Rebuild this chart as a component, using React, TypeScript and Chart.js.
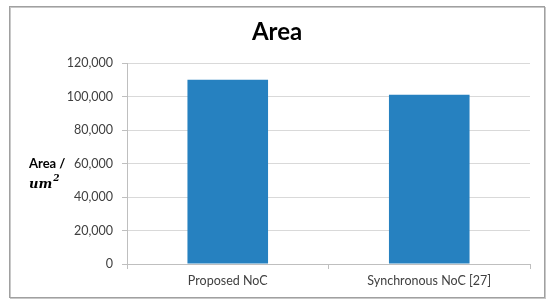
import React, { useEffect, useRef } from "react";
import { Chart, registerables } from "chart.js";

Chart.register(...registerables);

const categories = ["Proposed NoC", "Synchronous NoC [27]"];
const areaValues = [110000, 101000];
const yTicks = [0, 20000, 40000, 60000, 80000, 100000, 120000];
const chartTitle = "Area";
const yLabelLine1 = "Area /";
const yLabelUnit = "um";
const yLabelSup = "2";

const FONT = "Lato, 'Open Sans', sans-serif";

const framePlugin = {
  id: "frame",
  beforeDraw(chart: any) {
    const ctx = chart.ctx;
    ctx.save();
    ctx.fillStyle = "#ffffff";
    ctx.fillRect(0, 0, chart.width, chart.height);
    ctx.strokeStyle = "#c8c8c8";
    ctx.lineWidth = 1;
    ctx.strokeRect(10.5, 7.5, 535, 291);
    ctx.strokeStyle = "#a0a0a0";
    ctx.strokeRect(9.5, 6.5, 535, 291);
    ctx.restore();
  },
  afterDraw(chart: any) {
    const ctx = chart.ctx;
    ctx.save();
    ctx.fillStyle = "#000000";
    ctx.textBaseline = "middle";
    ctx.textAlign = "center";
    ctx.font = `bold 24px ${FONT}`;
    ctx.fillText(chartTitle, 277, 32);
    ctx.textAlign = "left";
    ctx.font = `bold 13px ${FONT}`;
    ctx.fillText(yLabelLine1, 29, 164);
    ctx.font = `bold italic 13px 'DejaVu Serif', serif`;
    ctx.fillText(yLabelUnit, 29, 185);
    const w = ctx.measureText(yLabelUnit).width;
    ctx.font = `bold italic 9px 'DejaVu Serif', serif`;
    ctx.fillText(yLabelSup, 29 + w + 1, 179);
    ctx.restore();
  },
};

export default function App() {
  const ref = useRef<HTMLCanvasElement | null>(null);
  useEffect(() => {
    document.body.style.margin = "0";
    const canvas = ref.current!;
    const chart = new Chart(canvas, {
      type: "bar",
      data: {
        labels: categories,
        datasets: [
          {
            label: chartTitle,
            data: areaValues,
            backgroundColor: "#2681c0",
            borderWidth: 0,
            categoryPercentage: 1,
            barPercentage: 0.4,
          },
        ],
      },
      options: {
        animation: false,
        responsive: false,
        devicePixelRatio: 1,
        layout: { padding: { left: 0, right: 20, top: 63, bottom: 0 } },
        plugins: {
          legend: { display: false },
          title: { display: false },
          tooltip: { enabled: false },
        },
        scales: {
          x: {
            afterFit: (s: any) => {
              s.height = 44;
            },
            grid: {
              offset: true,
              drawOnChartArea: false,
              drawTicks: true,
              tickLength: 5,
              color: "#bfbfbf",
            },
            border: { display: true, color: "#bfbfbf" },
            ticks: {
              padding: 4,
              color: "#404040",
              font: { family: FONT, size: 12.5 },
            },
          },
          y: {
            min: 0,
            max: 120000,
            afterFit: (s: any) => {
              s.width = 127;
            },
            afterBuildTicks: (s: any) => {
              s.ticks = yTicks.map((v) => ({ value: v }));
            },
            grid: {
              color: "#d9d9d9",
              tickLength: 5,
              drawTicks: true,
              tickColor: "#bfbfbf",
            },
            border: { display: true, color: "#bfbfbf" },
            ticks: {
              padding: 9,
              color: "#404040",
              font: { family: FONT, size: 12.5 },
              callback: (v: any) => Number(v).toLocaleString("en-US"),
            },
          },
        },
      },
      plugins: [framePlugin],
    });
    return () => chart.destroy();
  }, []);
  return (
    <div style={{ width: 550, height: 308 }}>
      <canvas ref={ref} width={550} height={308} style={{ display: "block" }} />
    </div>
  );
}
